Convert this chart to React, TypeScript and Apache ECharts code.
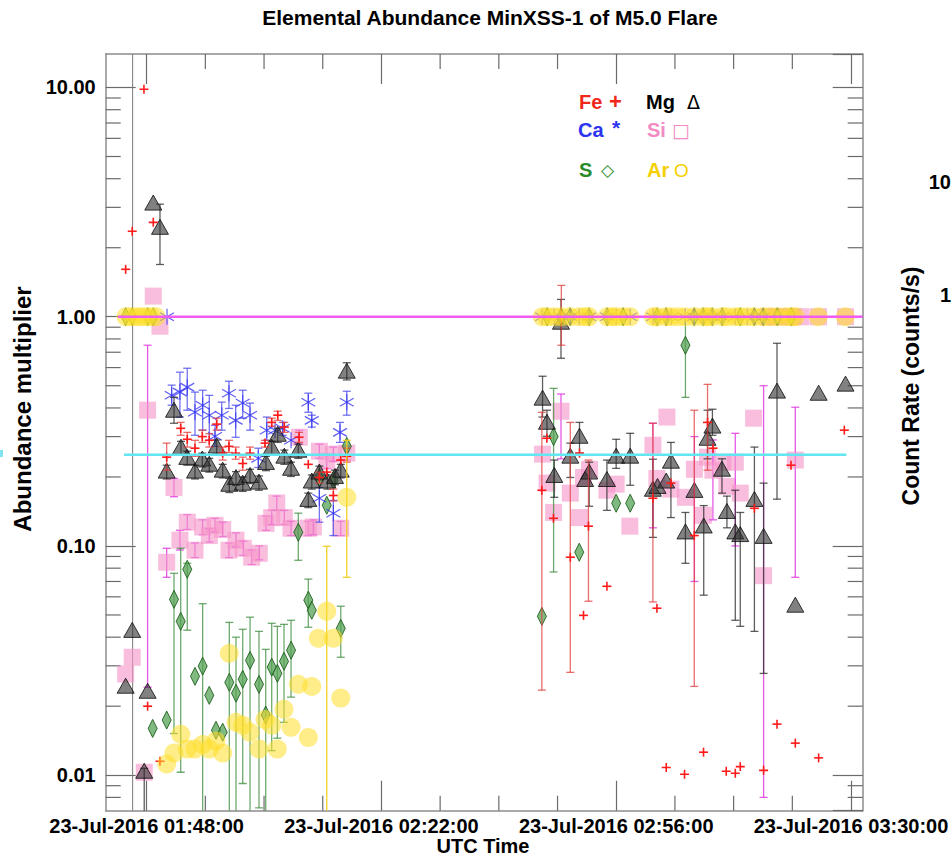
import { useEffect, useRef } from "react";
import * as echarts from "echarts";

// Time is in minutes after 00:00 UTC on 23-Jul-2016.
// Each point: [minute, abundance multiplier, lower bound, upper bound] (bounds null = no error bar)
type Pt = [number, number, number | null, number | null];

const feData: Pt[] = [
  [104.96, 1.61, null, null], [105.91, 2.36, null, null], [107.61, 9.83, null, null],
  [108.14, 0.02, null, null], [108.96, 2.58, null, null], [109.93, 0.0115, null, null],
  [110.9, 0.244, 0.214, 0.281], [112.93, 0.326, 0.304, 0.346], [113.88, 0.292, 0.27, 0.313],
  [115.0, 0.267, 0.246, 0.289], [116.06, 0.3, 0.283, 0.32], [117.07, 0.289, 0.27, 0.309],
  [118.14, 0.34, 0.32, 0.361], [119.01, 0.254, 0.237, 0.27], [119.92, 0.272, 0.256, 0.289],
  [120.89, 0.254, 0.239, 0.27], [121.91, 0.229, 0.214, 0.244], [122.97, 0.254, 0.239, 0.27],
  [125.14, 0.281, 0.27, 0.289], [126.11, 0.346, 0.333, 0.361], [126.98, 0.372, 0.353, 0.387],
  [127.94, 0.33, 0.313, 0.346], [130.07, 0.298, 0.283, 0.313], [131.41, 0.227, null, null],
  [133.01, 0.199, 0.188, 0.21], [134.08, 0.21, null, null], [135.04, 0.166, 0.157, 0.177],
  [136.11, 0.237, null, null], [136.98, 0.246, 0.232, 0.267],
  [165.23, 0.175, 0.0235, 0.383], [165.95, 0.295, null, null], [166.91, 0.132, null, null],
  [168.05, 1.0, 0.751, 1.37], [169.35, 0.0893, 0.0281, 0.346], [170.68, 0.254, null, null],
  [171.26, 0.0498, null, null], [171.98, 0.122, 0.0574, 0.237], [174.65, 0.0667, null, null],
  [181.31, 0.1615, 0.057, 0.343], [181.89, 0.0535, null, null], [183.24, 0.0108, null, null],
  [183.92, 0.188, null, null], [185.89, 0.0101, null, null], [187.3, 0.111, 0.0244, 0.391],
  [188.64, 0.0126, null, null], [189.22, 0.346, 0.214, 0.507], [190.01, 0.267, null, null],
  [191.93, 0.0104, null, null], [193.24, 0.0102, null, null], [193.96, 0.0109, null, null],
  [196.01, 0.146, null, null], [197.34, 0.0105, null, null], [199.28, 0.0167, null, null],
  [201.31, 0.225, null, null], [201.93, 0.0138, null, null], [205.31, 0.0119, null, null],
  [209.03, 0.32, null, null],
];

const caData: Pt[] = [
  [110.95, 1.0, null, null], [111.62, 0.454, 0.411, 0.503], [112.82, 0.469, 0.365, 0.573],
  [113.88, 0.493, 0.391, 0.596], [115.0, 0.383, 0.304, 0.469], [116.11, 0.411, 0.32, 0.478],
  [117.07, 0.372, 0.289, 0.454], [117.9, 0.301, 0.272, 0.336], [118.87, 0.372, 0.32, 0.424],
  [119.92, 0.464, 0.398, 0.523], [120.89, 0.353, 0.298, 0.411], [121.91, 0.42, 0.361, 0.478],
  [122.97, 0.372, 0.32, 0.42], [124.17, 0.241, 0.22, 0.267], [125.39, 0.32, 0.289, 0.365],
  [126.59, 0.32, null, null], [127.7, 0.326, 0.304, 0.346], [128.91, 0.289, null, null],
  [131.41, 0.424, 0.383, 0.464], [131.91, 0.353, 0.33, 0.372], [133.01, 0.1615, 0.127, 0.18],
  [135.04, 0.139, 0.111, 0.158], [136.0, 0.313, 0.283, 0.346], [136.98, 0.424, 0.372, 0.473],
  [165.27, 1.0, null, null], [167.01, 1.0, null, null], [168.02, 1.0, null, null],
  [169.33, 1.0, null, null], [170.63, 1.0, null, null], [172.08, 1.0, null, null],
  [174.69, 1.0, null, null], [175.99, 1.0, null, null], [178.02, 1.0, null, null],
  [181.35, 1.0, null, null], [183.23, 1.0, null, null], [183.96, 1.0, null, null],
  [185.98, 1.0, null, null], [187.29, 1.0, null, null], [188.59, 1.0, null, null],
  [189.9, 1.0, null, null], [191.35, 1.0, null, null], [193.23, 1.0, null, null],
  [194.97, 1.0, null, null], [195.99, 1.0, null, null], [197.29, 1.0, null, null],
];

const mgData: Pt[] = [
  [104.96, 0.0242, null, null], [105.91, 0.0424, null, null], [107.65, 0.0103, 0.005, 0.0107],
  [108.14, 0.023, null, null], [108.96, 3.1, null, null], [109.93, 2.43, 1.69, 3.1],
  [110.9, 0.21, 0.196, 0.225], [111.96, 0.387, 0.343, 0.445], [112.97, 0.267, 0.249, 0.286],
  [113.88, 0.241, 0.225, 0.259], [115.0, 0.21, 0.196, 0.225], [116.06, 0.237, 0.221, 0.254],
  [117.07, 0.225, 0.21, 0.241], [118.14, 0.27, 0.252, 0.29], [119.01, 0.212, 0.198, 0.227],
  [119.97, 0.184, 0.171, 0.197], [120.94, 0.197, 0.184, 0.211], [121.91, 0.186, 0.173, 0.2],
  [122.97, 0.201, 0.187, 0.216], [124.27, 0.188, 0.175, 0.202], [125.28, 0.229, 0.213, 0.246],
  [126.11, 0.267, 0.249, 0.286], [126.98, 0.304, 0.283, 0.326], [127.94, 0.244, 0.227, 0.262],
  [128.91, 0.216, 0.201, 0.232], [129.96, 0.259, 0.241, 0.278], [131.41, 0.158, 0.147, 0.17],
  [131.91, 0.19, 0.177, 0.204], [133.01, 0.208, 0.194, 0.223], [134.17, 0.19, 0.177, 0.204],
  [135.28, 0.199, 0.185, 0.214], [136.11, 0.212, 0.198, 0.227], [136.98, 0.573, 0.53, 0.63],
  [165.33, 0.437, 0.365, 0.55], [165.97, 0.343, 0.301, 0.391], [167.03, 0.201, 0.163, 0.237],
  [168.0, 0.937, 0.659, 1.19], [169.35, 0.244, 0.199, 0.281], [170.68, 0.298, 0.254, 0.346],
  [171.5, 0.193, null, null], [172.08, 0.208, 0.149, 0.232], [174.65, 0.193, 0.143, 0.237],
  [175.99, 0.244, 0.218, 0.292], [178.02, 0.244, 0.184, 0.31], [181.31, 0.175, 0.109, 0.239],
  [181.98, 0.18, null, null], [183.24, 0.19, null, null], [183.92, 0.232, 0.133, 0.283],
  [186.02, 0.114, 0.084, 0.14], [187.32, 0.173, null, null], [188.67, 0.121, 0.061, 0.15],
  [189.22, 0.292, 0.24, 0.391], [189.93, 0.33, 0.304, 0.395], [191.31, 0.214, 0.17, 0.24],
  [192.03, 0.14, 0.12, 0.165], [193.24, 0.114, 0.0474, 0.175], [193.96, 0.111, 0.0446, 0.14],
  [196.01, 0.158, 0.0424, 0.27], [197.34, 0.109, 0.0278, 0.188], [199.28, 0.469, 0.16, 0.766],
  [201.93, 0.0546, null, null], [205.31, 0.459, null, null], [209.2, 0.503, null, null],
];

const siData: Pt[] = [
  [104.96, 0.0276, null, null], [105.91, 0.0327, null, null], [107.65, 0.0103, null, null],
  [108.14, 0.391, 0.0242, 0.751], [108.96, 1.23, null, null], [109.93, 0.909, null, null],
  [110.9, 0.0849, 0.073, 0.0977], [111.96, 0.18, 0.164, 0.197], [112.82, 0.106, 0.096, 0.117],
  [113.88, 0.127, 0.118, 0.137], [115.0, 0.0958, 0.089, 0.103], [116.11, 0.121, 0.112, 0.13],
  [117.07, 0.111, 0.104, 0.119], [117.9, 0.123, 0.115, 0.132], [119.01, 0.118, 0.11, 0.127],
  [119.92, 0.0958, 0.089, 0.103], [120.94, 0.106, 0.099, 0.114], [121.99, 0.0977, 0.091, 0.105],
  [123.21, 0.0893, 0.083, 0.096], [124.31, 0.0929, 0.087, 0.1], [125.28, 0.1255, 0.117, 0.135],
  [126.11, 0.133, 0.124, 0.143], [126.84, 0.154, 0.143, 0.165], [127.94, 0.133, 0.124, 0.143],
  [128.91, 0.1195, 0.111, 0.128], [130.11, 0.298, 0.278, 0.32], [131.41, 0.1195, 0.111, 0.128],
  [132.14, 0.121, 0.112, 0.13], [133.01, 0.259, 0.241, 0.278], [134.08, 0.234, 0.218, 0.251],
  [135.04, 0.2515, 0.234, 0.27], [136.11, 0.1195, 0.111, 0.128], [136.98, 0.254, 0.237, 0.273],
  [165.33, 0.2515, null, null], [165.97, 0.188, null, null], [166.93, 0.14, null, null],
  [168.0, 0.387, 0.24, 0.46], [169.35, 0.17, null, null], [170.68, 0.133, null, null],
  [171.26, 0.199, null, null], [172.14, 0.216, null, null], [174.65, 0.175, null, null],
  [175.99, 0.186, null, null], [177.97, 0.122, null, null], [181.31, 0.275, 0.12, 0.343],
  [181.89, 0.197, null, null], [183.34, 0.365, null, null], [183.92, 0.177, null, null],
  [186.02, 0.163, null, null], [187.32, 0.216, 0.07, 0.3], [188.64, 0.136, null, null],
  [189.22, 0.244, null, null], [190.0, 0.214, 0.13, 0.29], [191.45, 0.232, null, null],
  [192.03, 0.182, null, null], [193.24, 0.232, 0.1, 0.31], [193.96, 0.17, null, null],
  [195.89, 0.361, null, null], [197.34, 0.0742, 0.008, 0.5], [201.93, 0.237, 0.073, 0.403],
  [197.99, 1.0, null, null], [199.15, 1.0, null, null], [200.45, 1.0, null, null],
  [201.61, 1.0, null, null], [202.77, 1.0, null, null], [205.29, 1.0, null, null],
  [209.2, 1.0, null, null],
];

const sData: Pt[] = [
  [104.96, 1.0, null, null], [105.91, 1.0, null, null], [108.14, 1.0, null, null],
  [108.96, 1.0, null, null],
  [108.87, 0.016, null, null], [110.9, 0.0174, null, null], [111.96, 0.0585, 0.0152, 0.076],
  [112.93, 0.0469, 0.0103, 0.0977], [113.88, 0.0791, 0.0429, 0.084], [115.0, 0.027, null, null],
  [116.11, 0.0299, 0.005, 0.056], [117.07, 0.0223, null, null], [118.04, 0.0157, null, null],
  [119.01, 0.0154, null, null], [119.97, 0.0254, 0.005, 0.0464], [120.94, 0.0228, 0.005, 0.04],
  [121.91, 0.0262, 0.0092, 0.0433], [122.97, 0.0317, 0.0068, 0.0489], [124.27, 0.0249, 0.0072, 0.0424],
  [125.24, 0.0183, 0.005, 0.0354], [126.11, 0.0296, 0.0128, 0.046], [126.93, 0.0278, 0.0145, 0.0446],
  [127.89, 0.0314, 0.017, 0.0455], [128.91, 0.0351, 0.0219, 0.0474], [129.96, 0.1147, 0.0866, 0.139],
  [131.41, 0.058, 0.0442, 0.0717], [131.91, 0.0524, null, null], [133.01, 0.199, null, null],
  [134.08, 0.1505, null, null], [135.04, 0.193, null, null], [136.11, 0.0437, 0.0327, 0.0546],
  [136.98, 0.272, null, null],
  [165.23, 0.0493, null, null], [166.93, 0.3, 0.077, 0.487], [170.64, 0.0939, null, null],
  [175.99, 0.1536, null, null], [178.02, 0.1536, null, null], [186.02, 0.751, 0.445, 1.0],
  [165.99, 1.0, null, null], [168.02, 1.0, null, null], [169.33, 1.0, null, null],
  [172.08, 1.0, null, null], [174.69, 1.0, null, null], [177.0, 1.0, null, null],
  [181.93, 1.0, null, null], [183.23, 1.0, null, null], [187.29, 1.0, null, null],
  [188.59, 1.0, null, null], [189.9, 1.0, null, null], [191.35, 1.0, null, null],
  [193.96, 1.0, null, null], [195.99, 1.0, null, null], [197.29, 1.0, null, null],
  [199.32, 1.0, null, null], [201.35, 1.0, null, null],
];

const arData: Pt[] = [
  [105.0, 1.0, null, null], [105.72, 1.0, null, null], [106.45, 1.0, null, null],
  [107.17, 1.0, null, null], [107.9, 1.0, null, null], [108.62, 1.0, null, null],
  [109.35, 1.0, null, null],
  [110.9, 0.0112, null, null], [111.96, 0.0125, null, null], [112.93, 0.0151, null, null],
  [113.88, 0.013, null, null], [115.0, 0.013, null, null], [116.11, 0.0136, null, null],
  [117.07, 0.013, null, null], [118.04, 0.0141, null, null], [119.01, 0.0125, null, null],
  [119.97, 0.034, null, null], [120.94, 0.017, null, null], [121.91, 0.0165, null, null],
  [122.97, 0.0154, null, null], [124.27, 0.013, null, null], [125.14, 0.0175, null, null],
  [126.11, 0.0165, null, null], [126.92, 0.013, null, null], [127.89, 0.0194, null, null],
  [128.91, 0.0162, null, null], [129.96, 0.0249, null, null], [131.41, 0.0146, null, null],
  [131.91, 0.0244, null, null], [132.86, 0.0396, null, null], [134.08, 0.0519, 0.005, 0.0997],
  [135.04, 0.0396, null, null], [136.11, 0.0217, null, null], [136.98, 0.163, 0.073, 0.289],
  [165.27, 1.0, null, null], [165.99, 1.0, null, null], [167.01, 1.0, null, null],
  [168.02, 1.0, null, null], [169.33, 1.0, null, null], [170.63, 1.0, null, null],
  [171.5, 1.0, null, null], [172.08, 1.0, null, null], [174.69, 1.0, null, null],
  [175.41, 1.0, null, null], [175.99, 1.0, null, null], [177.0, 1.0, null, null],
  [178.02, 1.0, null, null], [181.35, 1.0, null, null], [181.93, 1.0, null, null],
  [183.23, 1.0, null, null], [183.96, 1.0, null, null], [184.97, 1.0, null, null],
  [185.98, 1.0, null, null], [187.29, 1.0, null, null], [188.59, 1.0, null, null],
  [189.17, 1.0, null, null], [189.9, 1.0, null, null], [191.35, 1.0, null, null],
  [192.07, 1.0, null, null], [193.23, 1.0, null, null], [193.96, 1.0, null, null],
  [194.97, 1.0, null, null], [195.99, 1.0, null, null], [197.29, 1.0, null, null],
  [198.31, 1.0, null, null], [199.32, 1.0, null, null], [200.48, 1.0, null, null],
  [201.35, 1.0, null, null], [201.93, 1.0, null, null], [205.26, 1.0, null, null],
  [209.17, 1.0, null, null],
];

// Reference abundance levels and the flare-onset marker
const photosphericLine = [[103.84, 1.0], [211.69, 1.0]];
const coronalLine = [[104.71, 0.25], [209.32, 0.25]];
const flareOnset = 105.97;

// Axis ranges and tick positions
const timeRange = [102.07, 211.69];
const abundanceRange = [0.007, 14];
const timeTicks = [108, 142, 176, 210];
const timeMinorTicks = [116.5, 125, 133.5, 150.5, 159, 167.5, 184.5, 193, 201.5];
const abundanceMinorTicks = [
  0.008, 0.009, 0.02, 0.03, 0.04, 0.05, 0.06, 0.07, 0.08, 0.09,
  0.2, 0.3, 0.4, 0.5, 0.6, 0.7, 0.8, 0.9, 2, 3, 4, 5, 6, 7, 8, 9,
];

const FONT = '"Liberation Sans", Arial, Helvetica, sans-serif';
const SYM_FONT = '"DejaVu Sans", sans-serif';
const TICK = "#6a6a6a";
const FRAME = "#8c8c8c";

const pad = (n: number) => String(n).padStart(2, "0");
const clock = (m: number) => {
  const h = Math.floor(m / 60);
  const mm = Math.round(m - h * 60);
  return `23-Jul-2016 ${pad(h)}:${pad(mm)}:00`;
};

type Drawer = (x: number, y: number) => any[];

const drawFe: Drawer = (x, y) => {
  const st = { stroke: "#ff1a1a", lineWidth: 1.6 };
  return [
    { type: "line", shape: { x1: x - 4.5, y1: y, x2: x + 4.5, y2: y }, style: st },
    { type: "line", shape: { x1: x, y1: y - 4.5, x2: x, y2: y + 4.5 }, style: st },
  ];
};
const drawCa: Drawer = (x, y) => {
  const st = { stroke: "rgba(55,55,245,0.8)", lineWidth: 1.2 };
  return [90, 30, -30].map((a) => {
    const r = (a * Math.PI) / 180;
    const dx = 8 * Math.cos(r);
    const dy = 8 * Math.sin(r);
    return { type: "line", shape: { x1: x - dx, y1: y - dy, x2: x + dx, y2: y + dy }, style: st };
  });
};
const drawMg: Drawer = (x, y) => [
  {
    type: "polygon",
    shape: { points: [[x, y - 9], [x - 8.5, y + 6], [x + 8.5, y + 6]] },
    style: { fill: "rgba(45,45,45,0.6)", stroke: "rgba(20,20,20,0.85)", lineWidth: 1 },
  },
];
const drawSi: Drawer = (x, y) => [
  { type: "rect", shape: { x: x - 8.5, y: y - 8.5, width: 17, height: 17 }, style: { fill: "rgba(245,150,200,0.62)" } },
];
const drawS: Drawer = (x, y) => [
  {
    type: "polygon",
    shape: { points: [[x, y - 9], [x + 4.5, y], [x, y + 9], [x - 4.5, y]] },
    style: { fill: "rgba(80,160,80,0.72)", stroke: "rgba(30,95,30,0.9)", lineWidth: 1 },
  },
];
const drawAr: Drawer = (x, y) => [
  { type: "circle", shape: { cx: x, cy: y, r: 9.5 }, style: { fill: "rgba(255,222,40,0.55)" } },
];

function pointSeries(name: string, data: Pt[], barColor: string, draw: Drawer, z: number) {
  return {
    name,
    type: "custom",
    coordinateSystem: "cartesian2d",
    xAxisIndex: 0,
    yAxisIndex: 0,
    clip: true,
    silent: true,
    z,
    data,
    encode: { x: 0, y: 1 },
    renderItem: (_p: any, api: any) => {
      const t = api.value(0);
      const v = api.value(1);
      const lo = api.value(2);
      const hi = api.value(3);
      const c = api.coord([t, v]);
      const kids: any[] = [];
      if (lo > 0 && hi > 0) {
        const yTop = api.coord([t, hi])[1];
        const yBot = api.coord([t, lo])[1];
        const st = { stroke: barColor, lineWidth: 1.3 };
        kids.push({ type: "line", shape: { x1: c[0], y1: yTop, x2: c[0], y2: yBot }, style: st });
        kids.push({ type: "line", shape: { x1: c[0] - 4, y1: yTop, x2: c[0] + 4, y2: yTop }, style: st });
        kids.push({ type: "line", shape: { x1: c[0] - 4, y1: yBot, x2: c[0] + 4, y2: yBot }, style: st });
      }
      kids.push(...draw(c[0], c[1]));
      return { type: "group", children: kids };
    },
  };
}

function label(text: string, x: number, y: number, font: string, fill: string, extra: any = {}) {
  return { type: "text", x, y, ...extra, style: { text, font, fill, textVerticalAlign: "middle", ...(extra.style || {}) } };
}

function buildOption() {
  const [xMin, xMax] = timeRange;
  const [yMin, yMax] = abundanceRange;
  const tickStyle = { color: TICK, width: 1.2 };
  const baseX = {
    type: "value",
    min: xMin,
    max: xMax,
    splitLine: { show: false },
    axisLine: { show: true, onZero: false, lineStyle: { color: FRAME, width: 1.5 } },
    axisTick: { show: true, inside: true, length: 30, customValues: timeTicks, lineStyle: tickStyle },
  };
  const baseY = {
    type: "log",
    logBase: 10,
    min: yMin,
    max: yMax,
    splitLine: { show: false },
    axisLine: { show: true, lineStyle: { color: FRAME, width: 1.5 } },
    axisTick: { show: true, inside: true, length: 30, lineStyle: tickStyle },
  };
  const center = { style: { textAlign: "center" } };
  const vertical = { rotation: Math.PI / 2, style: { textAlign: "center" } };
  const right = { style: { textAlign: "right" } };
  return {
    animation: false,
    backgroundColor: "#ffffff",
    grid: { left: 105.7, right: 89.3, top: 54, bottom: 46.3, containLabel: false },
    xAxis: [
      {
        ...baseX,
        position: "bottom",
        axisLabel: {
          show: true,
          customValues: timeTicks,
          formatter: (v: number) => clock(v),
          color: "#000",
          fontFamily: FONT,
          fontWeight: "bold",
          fontSize: 20,
          margin: 5,
        },
      },
      { ...baseX, position: "top", axisLabel: { show: false } },
    ],
    yAxis: [
      {
        ...baseY,
        position: "left",
        axisLabel: {
          show: true,
          showMinLabel: false,
          showMaxLabel: false,
          formatter: (v: number) => v.toFixed(2),
          color: "#000",
          fontFamily: FONT,
          fontWeight: "bold",
          fontSize: 20,
          margin: 10,
        },
      },
      { ...baseY, position: "right", axisLabel: { show: false } },
    ],
    graphic: [
      label("Elemental Abundance MinXSS-1 of M5.0 Flare", 490, 17, `bold 21px ${FONT}`, "#000", center),
      label("UTC Time", 483, 846, `bold 20px ${FONT}`, "#000", center),
      label("Abundance multiplier", 22, 409, `bold 24px ${FONT}`, "#000", vertical),
      label("Count Rate (counts/s)", 911, 386, `bold 23px ${FONT}`, "#000", vertical),
      label("10", 951, 182, `bold 20px ${FONT}`, "#000", right),
      label("1", 951, 295, `bold 20px ${FONT}`, "#000", right),
      { type: "rect", shape: { x: 0, y: 450, width: 3, height: 7 }, style: { fill: "#7fe3f2" } },
      // element key
      label("Fe", 579, 102, `bold 20px ${FONT}`, "#f0281c"),
      label("+", 609, 101, `bold 22px ${FONT}`, "#f0281c"),
      label("Mg", 646, 102, `bold 20px ${FONT}`, "#000"),
      label("Δ", 687, 102, `19px ${SYM_FONT}`, "#000"),
      label("Ca", 578, 130, `bold 20px ${FONT}`, "#2b35ef"),
      label("*", 612, 127, `bold 21px ${FONT}`, "#2b35ef"),
      label("Si", 647, 130, `bold 20px ${FONT}`, "#f28ac4"),
      label("□", 672, 130, `19px ${SYM_FONT}`, "#f28ac4"),
      label("S", 579, 170, `bold 20px ${FONT}`, "#2a8b2a"),
      label("◇", 601, 170, `17px ${SYM_FONT}`, "#2a8b2a"),
      label("Ar", 647, 170, `bold 20px ${FONT}`, "#f5d000"),
      label("O", 674, 170, `19px ${FONT}`, "#f5d000"),
    ],
    series: [
      // minor ticks on the abundance axes (left and right)
      {
        type: "custom",
        silent: true,
        z: 1,
        data: abundanceMinorTicks.map((v) => [xMin, v]),
        encode: { x: 0, y: 1 },
        renderItem: (_p: any, api: any) => {
          const v = api.value(1);
          const l = api.coord([xMin, v]);
          const r = api.coord([xMax, v]);
          const st = { stroke: TICK, lineWidth: 1.2 };
          return {
            type: "group",
            children: [
              { type: "line", shape: { x1: l[0], y1: l[1], x2: l[0] + 15, y2: l[1] }, style: st },
              { type: "line", shape: { x1: r[0] - 15, y1: r[1], x2: r[0], y2: r[1] }, style: st },
            ],
          };
        },
      },
      // minor ticks on the time axes (bottom and top)
      {
        type: "custom",
        silent: true,
        z: 1,
        data: timeMinorTicks.map((t) => [t, yMin]),
        encode: { x: 0, y: 1 },
        renderItem: (_p: any, api: any) => {
          const t = api.value(0);
          const b = api.coord([t, yMin]);
          const tp = api.coord([t, yMax]);
          const st = { stroke: TICK, lineWidth: 1.2 };
          return {
            type: "group",
            children: [
              { type: "line", shape: { x1: b[0], y1: b[1], x2: b[0], y2: b[1] - 15 }, style: st },
              { type: "line", shape: { x1: tp[0], y1: tp[1], x2: tp[0], y2: tp[1] + 15 }, style: st },
            ],
          };
        },
      },
      {
        type: "line",
        name: "onset",
        silent: true,
        z: 2,
        showSymbol: false,
        data: [[flareOnset, yMin], [flareOnset, yMax]],
        lineStyle: { color: "#7a7a7a", width: 1 },
      },
      pointSeries("Si", siData, "rgba(225,60,225,0.85)", drawSi, 3),
      pointSeries("S", sData, "rgba(60,140,60,0.75)", drawS, 4),
      pointSeries("Ca", caData, "rgba(70,70,235,0.75)", drawCa, 5),
      pointSeries("Mg", mgData, "rgba(40,40,40,0.75)", drawMg, 6),
      pointSeries("Fe", feData, "rgba(225,60,60,0.75)", drawFe, 7),
      pointSeries("Ar", arData, "rgba(240,205,30,0.95)", drawAr, 8),
      {
        type: "line",
        name: "photospheric",
        silent: true,
        z: 9,
        showSymbol: false,
        data: photosphericLine,
        lineStyle: { color: "#f25cf2", width: 2.5 },
      },
      {
        type: "line",
        name: "coronal",
        silent: true,
        z: 9,
        showSymbol: false,
        data: coronalLine,
        lineStyle: { color: "#62e6f2", width: 2.5 },
      },
    ],
  };
}

export default function App() {
  const ref = useRef<HTMLDivElement>(null);
  useEffect(() => {
    if (!ref.current) return;
    const chart = echarts.init(ref.current, undefined, { renderer: "svg" });
    chart.setOption(buildOption() as any);
    return () => chart.dispose();
  }, []);
  return <div ref={ref} style={{ position: "absolute", left: 0, top: 0, width: 952, height: 857 }} />;
}
